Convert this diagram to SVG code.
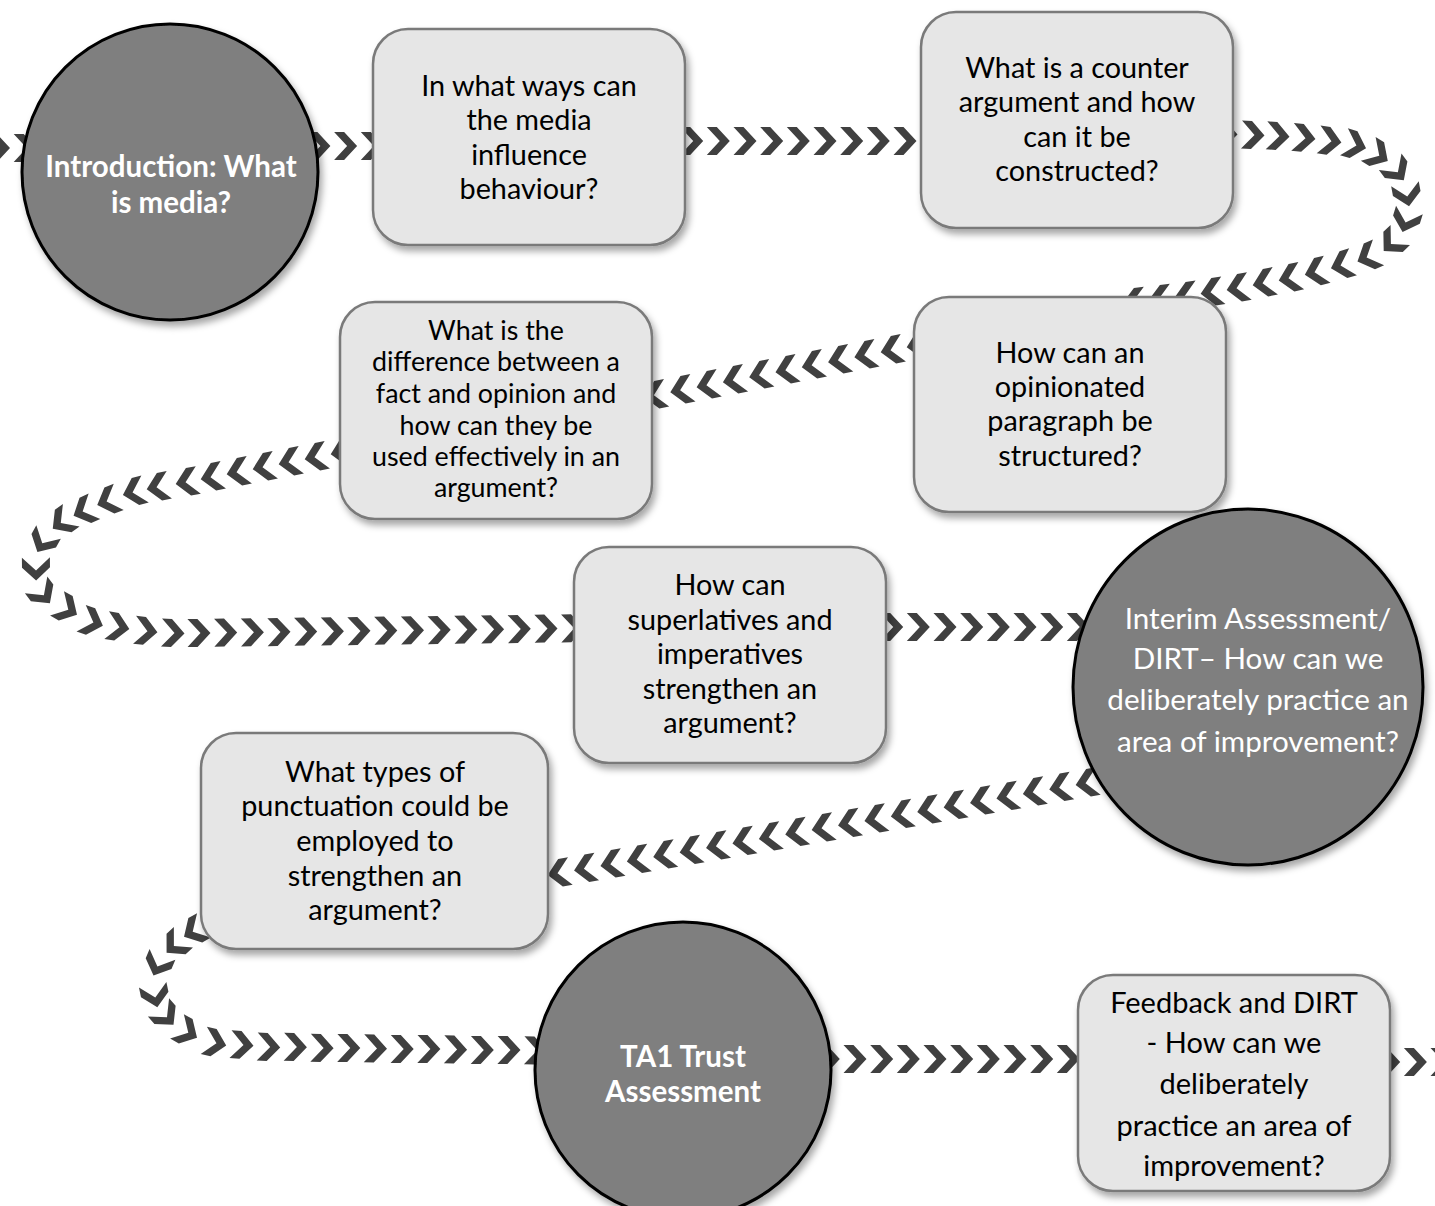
<svg xmlns="http://www.w3.org/2000/svg" width="1435" height="1206" viewBox="0 0 1435 1206">
<style>
.box{fill:#e6e6e6;stroke:#7a7a7a;stroke-width:2.5;filter:url(#sh)}
.circ{fill:#7f7f7f;stroke:#000;stroke-width:3;filter:url(#sh)}
.t{font-family:Lato,"Noto Sans",sans-serif;font-size:28.8px;fill:#000;text-anchor:middle}
.t3{font-size:26.8px}
.t8{font-size:29px}
.w{fill:#fff}
.w2{font-size:29.6px}
.b{font-weight:bold;font-size:29.5px}
.c{fill:none;stroke:none;marker-start:url(#chev);marker-mid:url(#chev);marker-end:url(#chev)}
</style>
<defs>
<filter id="sh" x="-10%" y="-10%" width="130%" height="130%">
<feDropShadow dx="3" dy="5" stdDeviation="3.5" flood-color="#000" flood-opacity="0.35"/>
</filter>
<marker id="chev" viewBox="-12 -15 24 30" markerWidth="24" markerHeight="30" refX="0" refY="0" orient="auto" markerUnits="userSpaceOnUse">
<polygon points="-11.5,-14 -1.5,-14 11.5,0 -1.5,14 -11.5,14 1.5,0" fill="#404040"/>
</marker>
</defs>
<g id="connectors">
<polyline class="c" points="-1.5,148 25.2,148"/>
<polyline class="c" points="318.9,146 345.6,146 372.3,146"/>
<polyline class="c" points="691.7,141 718.3,141 745,141 771.7,141 798.3,141 825,141 851.7,141 878.3,141 905,141"/>
<polyline class="c" points="1226,134 1253,135 1278,136 1304,138 1330,141 1355,145 1378,155 1397,171 1407,195 1406,221 1392,243 1368,257 1342,265 1316,272 1290,278 1264,283 1238,288 1212,292 1186,296 1160,299 1134,302"/>
<polyline class="c" points="918,345 892,350 865.7,355 839.4,360 813.1,365 786.8,370 760.5,375 734.2,380 707.9,385 681.6,390 655.3,395"/>
<polyline class="c" points="342,452 316,457 290,462 264,467 238,472 212,477 187,482 158,487 134,492 108,501 84,511 62,522 43,542 36,569 43,594 67,609 92,622 118,627 146,631 173,633 199,633 225.7,632.6 252.4,632.3 279,632 305.7,631.6 332.4,631.3 359,631 385.8,630.6 412.5,630.3 439.2,630 465.9,629.6 492.6,629.3 519.3,629 546,628.6 572.7,628.3"/>
<polyline class="c" points="891.7,627 918.3,627 945,627 971.7,627 998.3,627 1025,627 1051.7,627 1078.3,627"/>
<polyline class="c" points="1087,783 1060.6,787.5 1034.2,792 1007.8,796.5 981.4,801 955,805.5 928.6,810 902.2,814.5 875.8,819 849.4,823.5 823,828 796.6,832.5 770.2,837 743.8,841.5 717.4,846 691,850.5 664.6,855 638.2,859.5 611.8,864 585.4,868.5 559,873"/>
<polyline class="c" points="220,920 194,931 175,945 158,965 155,996 166,1016 187,1032 215,1043 242,1045 268.7,1047 295.4,1047 322.1,1048 348.8,1048 375.5,1048.5 402.2,1049 428.9,1049 455.6,1049.5 482.3,1050 509,1050 535.7,1050.5"/>
<polyline class="c" points="828.3,1059 855,1059 881.7,1059 908.3,1059 935,1059 961.7,1059 988.3,1059 1015,1059 1041.7,1059 1068.3,1059"/>
<polyline class="c" points="1388.7,1062 1415.4,1062 1442,1062"/>
</g>
<g id="n1">
<circle class="circ" cx="170" cy="172" r="148"/>
<text class="t w b"><tspan x="171" y="177">Introduction: What</tspan><tspan x="171" y="213">is media?</tspan></text>
</g>
<g id="n2">
<rect class="box" x="373" y="29" width="312" height="216" rx="35"/>
<text class="t"><tspan x="529" y="96">In what ways can</tspan><tspan x="529" y="130">the media</tspan><tspan x="529" y="165">influence</tspan><tspan x="529" y="199">behaviour?</tspan></text>
</g>
<g id="n3">
<rect class="box" x="921" y="12" width="312" height="216" rx="35"/>
<text class="t"><tspan x="1077" y="78">What is a counter</tspan><tspan x="1077" y="112">argument and how</tspan><tspan x="1077" y="147">can it be</tspan><tspan x="1077" y="181">constructed?</tspan></text>
</g>
<g id="n4">
<rect class="box" x="914" y="297" width="312" height="215" rx="35"/>
<text class="t"><tspan x="1070" y="363">How can an</tspan><tspan x="1070" y="397">opinionated</tspan><tspan x="1070" y="431">paragraph be</tspan><tspan x="1070" y="466">structured?</tspan></text>
</g>
<g id="n5">
<rect class="box" x="340" y="302" width="312" height="217" rx="35"/>
<text class="t t3"><tspan x="496" y="340">What is the</tspan><tspan x="496" y="371">difference between a</tspan><tspan x="496" y="403">fact and opinion and</tspan><tspan x="496" y="435">how can they be</tspan><tspan x="496" y="466">used effectively in an</tspan><tspan x="496" y="497">argument?</tspan></text>
</g>
<g id="n6">
<rect class="box" x="574" y="547" width="312" height="216" rx="35"/>
<text class="t"><tspan x="730" y="595">How can</tspan><tspan x="730" y="630">superlatives and</tspan><tspan x="730" y="664">imperatives</tspan><tspan x="730" y="699">strengthen an</tspan><tspan x="730" y="733">argument?</tspan></text>
</g>
<g id="n7">
<ellipse class="circ" cx="1248" cy="687" rx="175" ry="178"/>
<text class="t w w2"><tspan x="1258" y="629">Interim Assessment/</tspan><tspan x="1258" y="669">DIRT– How can we</tspan><tspan x="1258" y="710">deliberately practice an</tspan><tspan x="1258" y="752">area of improvement?</tspan></text>
</g>
<g id="n8">
<rect class="box" x="201" y="733" width="347" height="216" rx="35"/>
<text class="t"><tspan x="375" y="782">What types of</tspan><tspan x="375" y="816">punctuation could be</tspan><tspan x="375" y="851">employed to</tspan><tspan x="375" y="886">strengthen an</tspan><tspan x="375" y="920">argument?</tspan></text>
</g>
<g id="n9">
<circle class="circ" cx="683" cy="1070" r="148"/>
<text class="t w b"><tspan x="683" y="1067">TA1 Trust</tspan><tspan x="683" y="1102">Assessment</tspan></text>
</g>
<g id="n10">
<rect class="box" x="1078" y="975" width="312" height="216" rx="35"/>
<text class="t t8"><tspan x="1234" y="1013">Feedback and DIRT</tspan><tspan x="1234" y="1053">- How can we</tspan><tspan x="1234" y="1094">deliberately</tspan><tspan x="1234" y="1136">practice an area of</tspan><tspan x="1234" y="1176">improvement?</tspan></text>
</g>
</svg>
